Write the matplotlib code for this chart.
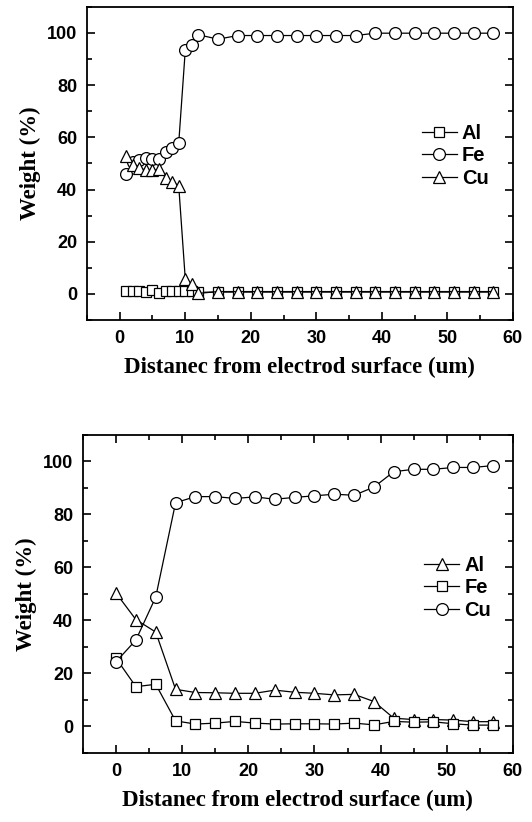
import numpy as np
import matplotlib
matplotlib.use("Agg")
import matplotlib.pyplot as plt
from matplotlib.ticker import MultipleLocator

# top panel: x = 1..12 then 15..57 step 3
x_top = [1, 2, 3, 4, 5, 6, 7, 8, 9, 10, 11, 12,
         15, 18, 21, 24, 27, 30, 33, 36, 39, 42, 45, 48, 51, 54, 57]
al_top = [1.2, 1.1, 1.0, 0.9, 1.6, 0.3, 1.1, 1.2, 1.1, 1.0, 1.0, 0.6,
          0.7, 0.7, 0.7, 0.7, 0.7, 0.7, 0.7, 0.7, 0.7, 0.7, 0.7, 0.7, 0.7, 0.7, 0.7]
fe_top = [46.1, 50.4, 51.3, 52.0, 51.8, 51.8, 54.5, 56.0, 57.7, 93.3, 95.4, 99.3,
          97.6, 99.0, 99.0, 99.0, 99.0, 99.0, 99.0, 99.0, 99.9, 99.9, 99.9, 99.9, 99.9, 99.9, 99.9]
cu_top = [53.0, 49.5, 48.4, 47.3, 47.3, 47.7, 44.6, 42.9, 41.5, 5.8, 3.9, 0.2,
          0.9, 0.9, 0.9, 0.9, 0.9, 0.9, 0.9, 0.9, 0.9, 0.9, 0.9, 0.9, 0.9, 0.9, 0.9]

# bottom panel: x = 0..57 step 3
x_bot = [0, 3, 6, 9, 12, 15, 18, 21, 24, 27, 30, 33, 36, 39, 42, 45, 48, 51, 54, 57]
al_bot = [50.3, 40.3, 35.6, 14.0, 12.8, 12.7, 12.5, 12.5, 13.7, 12.9, 12.5, 11.9,
          12.1, 9.4, 3.1, 2.6, 2.6, 2.4, 1.8, 1.8]
fe_bot = [25.7, 15.0, 15.9, 2.1, 0.9, 1.25, 1.9, 1.25, 0.9, 1.0, 1.0, 0.9,
          1.25, 0.6, 1.9, 1.6, 1.75, 1.0, 0.5, 0.5]
cu_bot = [24.4, 32.6, 48.8, 84.4, 86.7, 86.7, 86.0, 86.6, 85.7, 86.4, 87.0, 87.6,
          87.2, 90.3, 96.1, 97.0, 97.0, 97.7, 97.7, 98.4]

xlabel = "Distanec from electrod surface (um)"
ylabel = "Weight (%)"

tick_font = dict(family="Liberation Sans", weight="bold", size=13)
label_font = dict(family="Liberation Serif", weight="bold", size=16.5)

fig = plt.figure(figsize=(5.32, 8.22), dpi=100)
ax1 = fig.add_axes([0.1635, 0.6107, 0.8005, 0.381])
ax2 = fig.add_axes([0.156, 0.084, 0.808, 0.387])


def style_axes(ax, top_ticks):
    ax.set_xlim(-5, 60)
    ax.set_ylim(-10, 110)
    ax.xaxis.set_major_locator(MultipleLocator(10))
    ax.xaxis.set_minor_locator(MultipleLocator(5))
    ax.yaxis.set_major_locator(MultipleLocator(20))
    ax.yaxis.set_minor_locator(MultipleLocator(10))
    ax.tick_params(which="both", direction="in", top=top_ticks, right=True,
                   width=1.2)
    ax.tick_params(which="major", length=6, pad=7)
    ax.tick_params(which="minor", length=3.5)
    for s in ax.spines.values():
        s.set_linewidth(1.3)
    for lab in ax.get_xticklabels() + ax.get_yticklabels():
        lab.set_fontproperties(matplotlib.font_manager.FontProperties(**tick_font))
    ax.set_xlabel(xlabel, fontdict=label_font, labelpad=7)
    ax.set_ylabel(ylabel, fontdict=label_font, labelpad=4)


mk = dict(color="black", linewidth=0.9, markerfacecolor="white",
          markeredgecolor="black", markeredgewidth=0.9)

ax1.plot(x_top, al_top, marker="s", markersize=7.5, label="Al", **mk)
ax1.plot(x_top, fe_top, marker="o", markersize=8.5, label="Fe", **mk)
ax1.plot(x_top, cu_top, marker="^", markersize=9, label="Cu", **mk)
style_axes(ax1, top_ticks=False)

ax2.plot(x_bot, al_bot, marker="^", markersize=9, label="Al", **mk)
ax2.plot(x_bot, fe_bot, marker="s", markersize=7.5, label="Fe", **mk)
ax2.plot(x_bot, cu_bot, marker="o", markersize=8.5, label="Cu", **mk)
style_axes(ax2, top_ticks=True)

leg_font = matplotlib.font_manager.FontProperties(family="Liberation Sans", weight="bold", size=14.5)
for ax, anchor in [(ax1, (0.962, 0.524)), (ax2, (0.968, 0.519))]:
    ax.legend(loc="center right", bbox_to_anchor=anchor, frameon=False, prop=leg_font,
              handlelength=1.75, handletextpad=0.25, labelspacing=0.18, borderaxespad=0)

fig.savefig("out.png", dpi=100)
